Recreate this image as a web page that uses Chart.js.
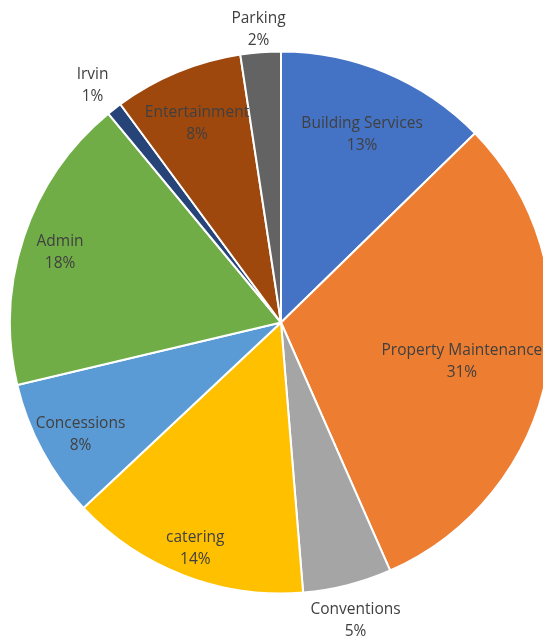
<!DOCTYPE html>
<html>
<head>
<meta charset="utf-8">
<script src="https://cdn.jsdelivr.net/npm/chart.js@4"></script>
<style>
  html, body { margin: 0; padding: 0; background: #fff; overflow: hidden; }
  #wrap { width: 562px; height: 641px; }
</style>
</head>
<body>
<div id="wrap"><canvas id="pie" width="562" height="641"></canvas></div>
<script>
/* pie slices, clockwise from 12 o'clock */
const categories = ["Building Services", "Property Maintenance", "Conventions", "catering",
                    "Concessions", "Admin", "Irvin", "Entertainment", "Parking"];
const shares = [12.7, 30.7, 5.3, 14.3, 8.3, 17.7, 0.9, 7.7, 2.4];
const sliceColors = ["#4472C4", "#ED7D31", "#A5A5A5", "#FFC000",
                     "#5B9BD5", "#70AD47", "#264478", "#9E480E", "#636363"];

// where each label sits, as a fraction of the radius along the slice middle
const labelRadius = [0.77, 0.68, 1.12, 0.88, 0.84, 0.86, 1.13, 0.81, 1.1];

const sliceLabels = {
  id: "sliceLabels",
  afterDraw(chart) {
    const ctx = chart.ctx;
    const total = shares.reduce((a, b) => a + b, 0);
    ctx.save();
    ctx.font = "15.5px 'Open Sans', sans-serif";
    ctx.fillStyle = "#404040";
    ctx.textAlign = "center";
    ctx.textBaseline = "middle";
    chart.getDatasetMeta(0).data.forEach((arc, i) => {
      const p = arc.getProps(["x", "y", "startAngle", "endAngle", "outerRadius"], true);
      const mid = (p.startAngle + p.endAngle) / 2;
      const r = p.outerRadius * labelRadius[i];
      const x = p.x + Math.cos(mid) * r;
      const y = p.y + Math.sin(mid) * r + 4;
      ctx.fillText(categories[i], x, y - 11);
      ctx.fillText(Math.round(shares[i] / total * 100) + "%", x, y + 11);
    });
    ctx.restore();
  }
};

new Chart(document.getElementById("pie"), {
  type: "pie",
  data: {
    labels: categories,
    datasets: [{
      data: shares,
      backgroundColor: sliceColors,
      borderColor: "#ffffff",
      borderWidth: 2
    }]
  },
  options: {
    responsive: false,
    animation: false,
    layout: { padding: { left: 9, right: 9, top: 50, bottom: 46 } },
    plugins: { legend: { display: false }, tooltip: { enabled: false } }
  },
  plugins: [sliceLabels]
});
</script>
</body>
</html>
